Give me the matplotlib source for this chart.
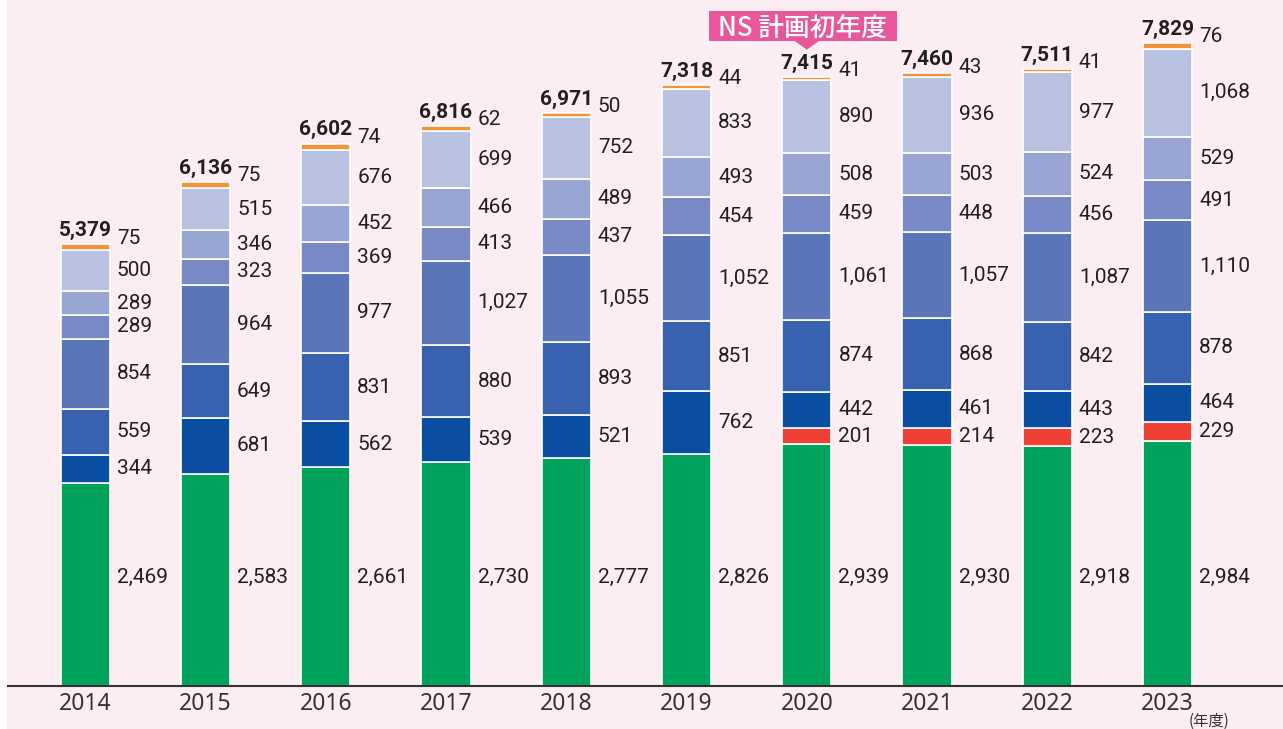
import matplotlib.pyplot as plt
from matplotlib.patches import Rectangle, Polygon
import numpy as np

years = ['2014', '2015', '2016', '2017', '2018', '2019', '2020', '2021', '2022', '2023']
totals = [5379, 6136, 6602, 6816, 6971, 7318, 7415, 7460, 7511, 7829]

# stacked segments, bottom to top
green = [2469, 2583, 2661, 2730, 2777, 2826, 2939, 2930, 2918, 2984]
red = [0, 0, 0, 0, 0, 0, 201, 214, 223, 229]
blue1 = [344, 681, 562, 539, 521, 762, 442, 461, 443, 464]
blue2 = [559, 649, 831, 880, 893, 851, 874, 868, 842, 878]
blue3 = [854, 964, 977, 1027, 1055, 1052, 1061, 1057, 1087, 1110]
blue4 = [289, 323, 369, 413, 437, 454, 459, 448, 456, 491]
blue5 = [289, 346, 452, 466, 489, 493, 508, 503, 524, 529]
blue6 = [500, 515, 676, 699, 752, 833, 890, 936, 977, 1068]
orange = [75, 75, 74, 62, 50, 44, 41, 43, 41, 76]

series = [green, red, blue1, blue2, blue3, blue4, blue5, blue6, orange]
colors = ['#00a35c', '#ef4036', '#0a4ea2', '#3862b0', '#5a76b9',
          '#7989c5', '#98a5d3', '#b9c1e0', '#f39237']

bg = '#fcedf2'
pink = '#e9579b'
txt = '#231f20'
num_font = ['Roboto', 'DejaVu Sans']
jp_font = ['Noto Sans CJK JP', 'DejaVu Sans']

fig = plt.figure(figsize=(12.83, 7.29), dpi=100)
fig.patch.set_facecolor(bg)
fig.patches.append(Rectangle((0, 0), 7 / 1283, 1, transform=fig.transFigure,
                             facecolor='white', edgecolor='none', zorder=0))
ax = fig.add_axes([7 / 1283, 43 / 729, 1276 / 1283, 686 / 729])
ax.set_facecolor(bg)

x = np.arange(len(years))
width = 0.41
px = 442 / 5379      # pixels per value unit
pxx = 120.3          # pixels per bar slot
ax.set_xlim(-0.65, 9.96)
ax.set_ylim(0, 686 / px)

bottom = np.zeros(len(years))
centers = []
for vals, c in zip(series, colors):
    vals = np.array(vals, dtype=float)
    ax.bar(x, vals, width, bottom=bottom, color=c, edgecolor='white',
           linewidth=1.2, zorder=2)
    centers.append(bottom + vals / 2)
    bottom = bottom + vals

# the green labels all sit on one common line
green_label_y = 109 / px

label_x = x + width / 2 + 7 / pxx
for i in range(len(years)):
    for k, vals in enumerate(series):
        v = vals[i]
        if v == 0:
            continue
        y = centers[k][i]
        if k == 0:
            y = green_label_y
        elif k == len(series) - 1:
            y = bottom[i] + 6 / px
        ax.text(label_x[i], y, f'{v:,}', ha='left', va='center',
                fontsize=15, color=txt, family=num_font, zorder=3)
    ax.annotate(f'{totals[i]:,}', xy=(x[i], bottom[i]), xytext=(0, 3),
                textcoords='offset points', ha='center', va='bottom',
                fontsize=15, fontweight='bold', color=txt, family=num_font)

# NS plan callout above 2020
idx = years.index('2020')
cx = x[idx] - 4 / pxx
box_w = 188 / pxx
box_h = 30 / px
box_y = bottom[idx] + 36 / px
ax.add_patch(Rectangle((cx - box_w / 2, box_y), box_w, box_h, facecolor=pink,
                       edgecolor='none', clip_on=False, zorder=5))
ax.add_patch(Polygon([(x[idx] - 14 / pxx, box_y + 1 / px),
                      (x[idx] + 14 / pxx, box_y + 1 / px),
                      (x[idx], box_y - 9 / px)],
                     closed=True, facecolor=pink, edgecolor='none',
                     clip_on=False, zorder=5))
ax.text(cx, box_y + box_h / 2, 'NS 計画初年度', ha='center', va='center_baseline',
        fontsize=18.5, color='white', family=jp_font, fontweight='medium',
        zorder=6)

for s in ['top', 'right', 'left']:
    ax.spines[s].set_visible(False)
ax.spines['bottom'].set_color('#333333')
ax.spines['bottom'].set_linewidth(1.5)
ax.set_yticks([])
ax.set_xticks(x)
ax.set_xticklabels(years, fontsize=16.5, color='#333333', family='Noto Sans')
ax.tick_params(axis='x', length=0, pad=4)

fig.text(1209 / 1283, 1 - 721 / 729, '(年度)', ha='center', va='center',
         fontsize=11, color='#333333', family=jp_font)

fig.savefig('out.png', dpi=100, facecolor=fig.get_facecolor())
